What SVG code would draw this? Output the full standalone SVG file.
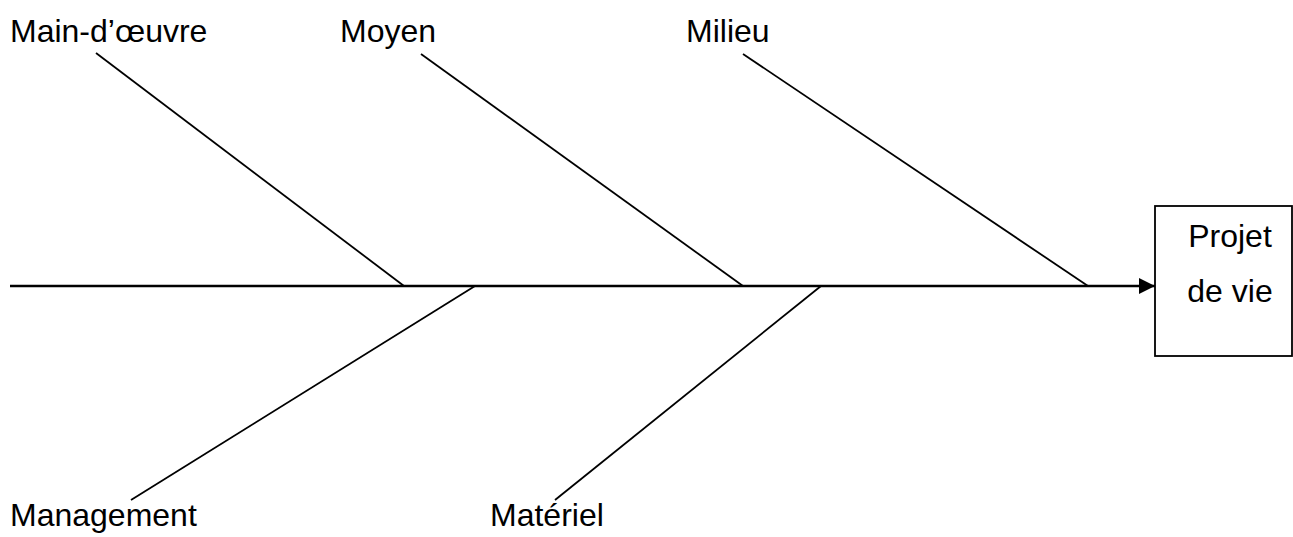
<svg xmlns="http://www.w3.org/2000/svg" width="1293" height="537" viewBox="0 0 1293 537">
<defs>
<style>
text{font-family:"Liberation Sans",Arial,sans-serif;font-size:32px;fill:#000}
.b{stroke:#000;stroke-width:1.8;fill:none}
.m{stroke:#000;stroke-width:2.6;fill:none}
</style>
<marker id="ah" markerUnits="userSpaceOnUse" markerWidth="16" markerHeight="16" refX="16" refY="8" orient="auto">
<path d="M0,0 L16,8 L0,16 Z" fill="#000"/>
</marker>
</defs>
<rect width="1293" height="537" fill="#fff"/>
<g id="connectors">
<line class="m" x1="10" y1="286" x2="1155" y2="286" marker-end="url(#ah)"/>
<line class="b" x1="96" y1="53" x2="404" y2="286"/>
<line class="b" x1="421" y1="54" x2="743" y2="286"/>
<line class="b" x1="743" y1="54" x2="1088" y2="286"/>
<line class="b" x1="475" y1="286" x2="131" y2="500"/>
<line class="b" x1="821" y1="286" x2="555" y2="500"/>
</g>
<g id="main-doeuvre"><text x="10" y="42">Main-d’œuvre</text></g>
<g id="moyen"><text x="340" y="42">Moyen</text></g>
<g id="milieu"><text x="686" y="42">Milieu</text></g>
<g id="management"><text x="10" y="526">Management</text></g>
<g id="materiel"><text x="490" y="526">Matériel</text></g>
<g id="projet">
<rect class="b" x="1155" y="206" width="137" height="150"/>
<text x="1230" y="247" text-anchor="middle">Projet</text>
<text x="1230" y="302" text-anchor="middle">de vie</text>
</g>
</svg>
